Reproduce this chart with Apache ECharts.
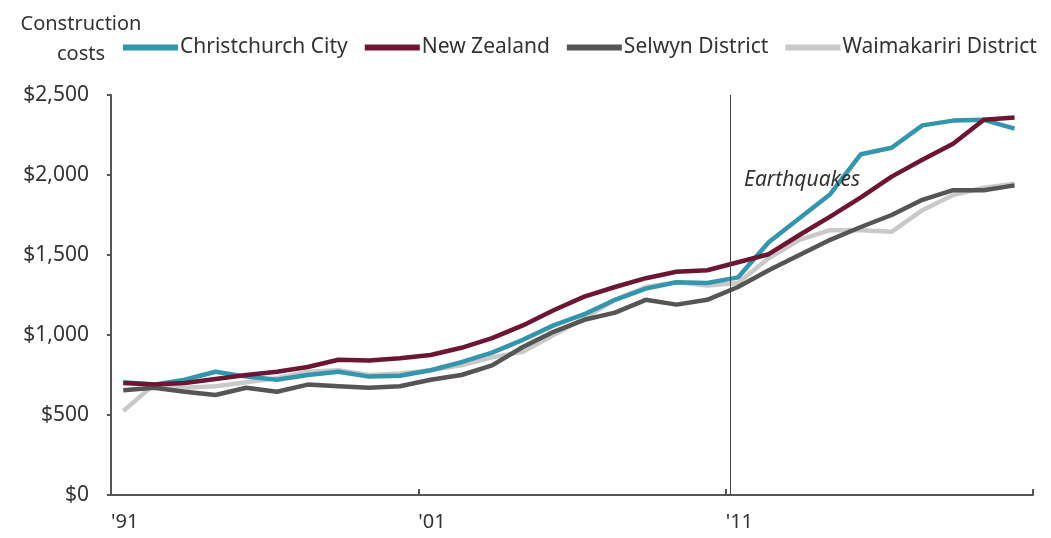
<!DOCTYPE html>
<html>
<head>
<meta charset="utf-8">
<script src="https://cdn.jsdelivr.net/npm/echarts@6/dist/echarts.min.js"></script>
<style>
  html, body { margin: 0; padding: 0; background: #fff; }
  #chart { width: 1051px; height: 538px; }
</style>
</head>
<body>
<div id="chart"></div>
<script>
// annual points (June years), plotted on a decimal year axis
const years = [1991.4, 1992.4, 1993.4, 1994.4, 1995.4, 1996.4, 1997.4, 1998.4, 1999.4, 2000.4,
  2001.4, 2002.4, 2003.4, 2004.4, 2005.4, 2006.4, 2007.4, 2008.4, 2009.4, 2010.4,
  2011.4, 2012.4, 2013.4, 2014.4, 2015.4, 2016.4, 2017.4, 2018.4, 2019.4, 2020.4];

const christchurch = [705, 690, 720, 770, 740, 720, 750, 770, 740, 745,
  780, 830, 890, 970, 1060, 1130, 1220, 1290, 1330, 1325,
  1360, 1580, 1730, 1880, 2130, 2170, 2310, 2340, 2345, 2290];
const newZealand = [700, 690, 700, 725, 750, 770, 800, 845, 840, 855,
  875, 920, 980, 1060, 1155, 1240, 1300, 1355, 1395, 1405,
  1455, 1505, 1625, 1740, 1860, 1990, 2095, 2195, 2345, 2360];
const selwyn = [655, 670, 645, 625, 670, 645, 690, 680, 670, 680,
  720, 750, 810, 925, 1020, 1095, 1140, 1220, 1190, 1220,
  1300, 1405, 1500, 1595, 1675, 1750, 1845, 1905, 1905, 1935];
const waimakariri = [525, 690, 670, 680, 705, 730, 770, 780, 750, 760,
  780, 810, 860, 895, 1000, 1105, 1220, 1300, 1330, 1310,
  1325, 1480, 1595, 1655, 1655, 1645, 1780, 1875, 1920, 1945];

const xTicks = { 1991: "'91", 2001: "'01", 2011: "'11" };
const quakeYear = 2011.15;

const font = 'Noto Sans';
const chart = echarts.init(document.getElementById('chart'));

function pairs(vals) {
  return vals.map((v, i) => [years[i], v]);
}

function line(name, color, vals) {
  return {
    name: name,
    type: 'line',
    data: pairs(vals),
    showSymbol: false,
    lineStyle: { color: color, width: 4.5 },
    itemStyle: { color: color },
    z: 3
  };
}

const series = [
  line('Waimakariri District', '#c9c9c9', waimakariri),
  line('Selwyn District', '#555555', selwyn),
  line('Christchurch City', '#3396ad', christchurch),
  line('New Zealand', '#6d1631', newZealand)
];

// earthquake marker + note hung on the first series
series[0].markLine = {
  silent: true,
  symbol: 'none',
  label: { show: false },
  lineStyle: { color: '#444', width: 1, type: 'solid' },
  data: [[{ coord: [quakeYear, 0] }, { coord: [quakeYear, 2500] }]]
};
series[0].markPoint = {
  silent: true,
  symbol: 'circle',
  symbolSize: 0,
  label: {
    show: true,
    position: 'right',
    distance: 0,
    formatter: 'Earthquakes',
    color: '#333',
    fontFamily: font,
    fontSize: 21,
    fontStyle: 'italic'
  },
  data: [{ coord: [2011.6, 1970] }]
};

chart.setOption({
  animation: false,
  title: {
    text: 'Construction\ncosts',
    left: 76,
    top: 4,
    textAlign: 'center',
    textStyle: { fontFamily: font, fontSize: 20, fontWeight: 'normal', color: '#333', lineHeight: 30 }
  },
  legend: {
    data: ['Christchurch City', 'New Zealand', 'Selwyn District', 'Waimakariri District'],
    left: 118,
    top: 32,
    icon: 'rect',
    itemWidth: 55,
    itemHeight: 6,
    itemGap: 17,
    textStyle: { fontFamily: font, fontSize: 21, color: '#333', padding: [0, 0, 0, -3] }
  },
  grid: { left: 111, right: 18, top: 95, bottom: 43 },
  xAxis: {
    type: 'value',
    min: 1991,
    max: 2021,
    interval: 10,
    axisLine: { lineStyle: { color: '#555', width: 2 } },
    axisTick: { inside: true, length: 6, lineStyle: { color: '#555', width: 2 } },
    splitLine: { show: false },
    axisLabel: {
      formatter: v => xTicks[v] || '',
      align: 'left',
      margin: 17,
      fontFamily: font,
      fontSize: 20,
      color: '#333'
    }
  },
  yAxis: {
    type: 'value',
    min: 0,
    max: 2500,
    interval: 500,
    axisLine: { show: true, lineStyle: { color: '#555', width: 2 } },
    axisTick: { show: true, length: 4, lineStyle: { color: '#555', width: 2 } },
    splitLine: { show: false },
    axisLabel: {
      formatter: v => '$' + v.toLocaleString('en-US'),
      margin: 22,
      fontFamily: font,
      fontSize: 21,
      color: '#333'
    }
  },
  series: series
});
</script>
</body>
</html>
